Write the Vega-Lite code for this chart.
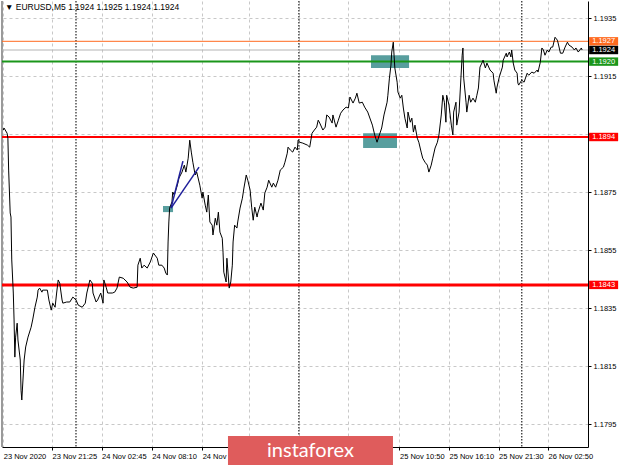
{
  "$schema": "https://vega.github.io/schema/vega-lite/v6.json",
  "width": 586,
  "height": 446,
  "autosize": "none",
  "padding": {"left": 2, "top": 1, "right": 32, "bottom": 18},
  "background": "white",
  "config": {"view": {"stroke": null}, "font": "Liberation Sans"},
  "layer": [
    {
      "data": {"values": [{"t": "2020-11-23T16:10:00Z", "p": 1.18964}], "format": {"parse": {"t": "date"}}},
      "mark": {"type": "rule", "color": "#9a9a9a", "strokeWidth": 2},
      "encoding": {
        "x": {"datum": {"utc": true, "year": 2020, "month": 11, "date": 23, "hours": 16, "minutes": 2}, "type": "temporal"}
      }
    },
    {
      "data": {"values": [{"d": "2020-11-24T00:00:00Z"}, {"d": "2020-11-25T00:00:00Z"}, {"d": "2020-11-26T00:00:00Z"}], "format": {"parse": {"d": "date"}}},
      "mark": {"type": "rule", "color": "#333333", "strokeWidth": 1.3, "strokeDash": [1.5, 1.5]},
      "encoding": {"x": {"field": "d", "type": "temporal"}}
    },
    {
      "data": {"values": [
        {"t1": "2020-11-24T09:22:00Z", "t2": "2020-11-24T10:27:00Z", "p1": 1.18702, "p2": 1.18681},
        {"t1": "2020-11-25T07:46:00Z", "t2": "2020-11-25T11:52:00Z", "p1": 1.19222, "p2": 1.19178},
        {"t1": "2020-11-25T06:55:00Z", "t2": "2020-11-25T10:34:00Z", "p1": 1.18953, "p2": 1.18902}
      ], "format": {"parse": {"t1": "date", "t2": "date"}}},
      "mark": {"type": "rect", "color": "#4a9696", "opacity": 0.92},
      "encoding": {
        "x": {"field": "t1", "type": "temporal"},
        "x2": {"field": "t2"},
        "y": {"field": "p1", "type": "quantitative"},
        "y2": {"field": "p2"}
      }
    },
    {
      "data": {"values": [{"lvl": "1.1924", "p": 1.1924}]},
      "mark": {"type": "rule", "color": "#b4b4b4", "strokeWidth": 1},
      "encoding": {"y": {"field": "p", "type": "quantitative"}}
    },
    {
      "data": {"values": [{"lvl": "1.1927", "p": 1.1927}]},
      "mark": {"type": "rule", "color": "#ff6a1f", "strokeWidth": 1},
      "encoding": {"y": {"field": "p", "type": "quantitative"}}
    },
    {
      "data": {"values": [{"lvl": "1.1920", "p": 1.1920}]},
      "mark": {"type": "rule", "color": "#1a961a", "strokeWidth": 2},
      "encoding": {"y": {"field": "p", "type": "quantitative"}}
    },
    {
      "data": {"values": [{"lvl": "1.1894", "p": 1.1894}]},
      "mark": {"type": "rule", "color": "#ff0000", "strokeWidth": 2},
      "encoding": {"y": {"field": "p", "type": "quantitative"}}
    },
    {
      "data": {"values": [{"lvl": "1.1843", "p": 1.1843}]},
      "mark": {"type": "rule", "color": "#ff0000", "strokeWidth": 3},
      "encoding": {"y": {"field": "p", "type": "quantitative"}}
    },
    {
      "data": {"values": [
        {"t": "2020-11-23T16:10:00Z", "p": 1.18964}, {"t": "2020-11-23T16:15:00Z", "p": 1.18971}, {"t": "2020-11-23T16:35:00Z", "p": 1.18953}, {"t": "2020-11-23T16:40:00Z", "p": 1.18936},
        {"t": "2020-11-23T16:45:00Z", "p": 1.18826}, {"t": "2020-11-23T16:55:00Z", "p": 1.18678}, {"t": "2020-11-23T17:00:00Z", "p": 1.18664}, {"t": "2020-11-23T17:05:00Z", "p": 1.18516},
        {"t": "2020-11-23T17:15:00Z", "p": 1.18402}, {"t": "2020-11-23T17:20:00Z", "p": 1.18309}, {"t": "2020-11-23T17:25:00Z", "p": 1.18181}, {"t": "2020-11-23T17:30:00Z", "p": 1.18250},
        {"t": "2020-11-23T17:40:00Z", "p": 1.18298}, {"t": "2020-11-23T17:45:00Z", "p": 1.18240}, {"t": "2020-11-23T18:00:00Z", "p": 1.18171}, {"t": "2020-11-23T18:05:00Z", "p": 1.18067},
        {"t": "2020-11-23T18:10:00Z", "p": 1.18033}, {"t": "2020-11-23T18:20:00Z", "p": 1.18126}, {"t": "2020-11-23T18:25:00Z", "p": 1.18171}, {"t": "2020-11-23T18:35:00Z", "p": 1.18216},
        {"t": "2020-11-23T18:50:00Z", "p": 1.18250}, {"t": "2020-11-23T19:10:00Z", "p": 1.18284}, {"t": "2020-11-23T19:20:00Z", "p": 1.18309}, {"t": "2020-11-23T19:35:00Z", "p": 1.18353},
        {"t": "2020-11-23T19:50:00Z", "p": 1.18388}, {"t": "2020-11-23T19:55:00Z", "p": 1.18412}, {"t": "2020-11-23T20:05:00Z", "p": 1.18419}, {"t": "2020-11-23T20:20:00Z", "p": 1.18405},
        {"t": "2020-11-23T20:25:00Z", "p": 1.18412}, {"t": "2020-11-23T20:55:00Z", "p": 1.18412}, {"t": "2020-11-23T21:05:00Z", "p": 1.18378}, {"t": "2020-11-23T21:20:00Z", "p": 1.18343},
        {"t": "2020-11-23T21:30:00Z", "p": 1.18367}, {"t": "2020-11-23T21:45:00Z", "p": 1.18353}, {"t": "2020-11-23T21:55:00Z", "p": 1.18402}, {"t": "2020-11-23T22:05:00Z", "p": 1.18447},
        {"t": "2020-11-23T22:15:00Z", "p": 1.18436}, {"t": "2020-11-23T22:30:00Z", "p": 1.18378}, {"t": "2020-11-23T22:35:00Z", "p": 1.18367}, {"t": "2020-11-23T23:00:00Z", "p": 1.18371},
        {"t": "2020-11-23T23:20:00Z", "p": 1.18371}, {"t": "2020-11-23T23:40:00Z", "p": 1.18388}, {"t": "2020-11-24T00:00:00Z", "p": 1.18378}, {"t": "2020-11-24T00:15:00Z", "p": 1.18360},
        {"t": "2020-11-24T00:40:00Z", "p": 1.18353}, {"t": "2020-11-24T01:00:00Z", "p": 1.18367}, {"t": "2020-11-24T01:10:00Z", "p": 1.18402}, {"t": "2020-11-24T01:30:00Z", "p": 1.18447},
        {"t": "2020-11-24T01:45:00Z", "p": 1.18436}, {"t": "2020-11-24T01:50:00Z", "p": 1.18402}, {"t": "2020-11-24T02:10:00Z", "p": 1.18371}, {"t": "2020-11-24T02:20:00Z", "p": 1.18378},
        {"t": "2020-11-24T02:40:00Z", "p": 1.18402}, {"t": "2020-11-24T02:55:00Z", "p": 1.18367}, {"t": "2020-11-24T03:00:00Z", "p": 1.18447}, {"t": "2020-11-24T03:15:00Z", "p": 1.18422},
        {"t": "2020-11-24T03:25:00Z", "p": 1.18402}, {"t": "2020-11-24T03:55:00Z", "p": 1.18402}, {"t": "2020-11-24T04:10:00Z", "p": 1.18405}, {"t": "2020-11-24T04:25:00Z", "p": 1.18419},
        {"t": "2020-11-24T04:40:00Z", "p": 1.18457}, {"t": "2020-11-24T05:05:00Z", "p": 1.18453}, {"t": "2020-11-24T05:30:00Z", "p": 1.18440}, {"t": "2020-11-24T05:50:00Z", "p": 1.18422},
        {"t": "2020-11-24T06:10:00Z", "p": 1.18419}, {"t": "2020-11-24T06:35:00Z", "p": 1.18422}, {"t": "2020-11-24T06:40:00Z", "p": 1.18498}, {"t": "2020-11-24T06:55:00Z", "p": 1.18522},
        {"t": "2020-11-24T07:05:00Z", "p": 1.18488}, {"t": "2020-11-24T07:20:00Z", "p": 1.18498}, {"t": "2020-11-24T07:40:00Z", "p": 1.18488}, {"t": "2020-11-24T08:00:00Z", "p": 1.18509},
        {"t": "2020-11-24T08:20:00Z", "p": 1.18540}, {"t": "2020-11-24T08:45:00Z", "p": 1.18522}, {"t": "2020-11-24T08:55:00Z", "p": 1.18498}, {"t": "2020-11-24T09:15:00Z", "p": 1.18498},
        {"t": "2020-11-24T09:30:00Z", "p": 1.18488}, {"t": "2020-11-24T09:40:00Z", "p": 1.18471}, {"t": "2020-11-24T09:50:00Z", "p": 1.18464}, {"t": "2020-11-24T09:55:00Z", "p": 1.18578},
        {"t": "2020-11-24T10:00:00Z", "p": 1.18647}, {"t": "2020-11-24T10:05:00Z", "p": 1.18695}, {"t": "2020-11-24T10:20:00Z", "p": 1.18716}, {"t": "2020-11-24T10:25:00Z", "p": 1.18750},
        {"t": "2020-11-24T10:35:00Z", "p": 1.18740}, {"t": "2020-11-24T10:55:00Z", "p": 1.18774}, {"t": "2020-11-24T11:05:00Z", "p": 1.18798}, {"t": "2020-11-24T11:25:00Z", "p": 1.18819},
        {"t": "2020-11-24T11:40:00Z", "p": 1.18843}, {"t": "2020-11-24T11:50:00Z", "p": 1.18819}, {"t": "2020-11-24T12:05:00Z", "p": 1.18867}, {"t": "2020-11-24T12:15:00Z", "p": 1.18929},
        {"t": "2020-11-24T12:25:00Z", "p": 1.18888}, {"t": "2020-11-24T12:35:00Z", "p": 1.18853}, {"t": "2020-11-24T12:50:00Z", "p": 1.18809}, {"t": "2020-11-24T13:00:00Z", "p": 1.18819},
        {"t": "2020-11-24T13:20:00Z", "p": 1.18774}, {"t": "2020-11-24T13:35:00Z", "p": 1.18729}, {"t": "2020-11-24T13:40:00Z", "p": 1.18750}, {"t": "2020-11-24T13:55:00Z", "p": 1.18705},
        {"t": "2020-11-24T14:05:00Z", "p": 1.18681}, {"t": "2020-11-24T14:15:00Z", "p": 1.18740}, {"t": "2020-11-24T14:25:00Z", "p": 1.18647}, {"t": "2020-11-24T14:40:00Z", "p": 1.18636},
        {"t": "2020-11-24T14:45:00Z", "p": 1.18602}, {"t": "2020-11-24T15:00:00Z", "p": 1.18660}, {"t": "2020-11-24T15:10:00Z", "p": 1.18636}, {"t": "2020-11-24T15:20:00Z", "p": 1.18681},
        {"t": "2020-11-24T15:30:00Z", "p": 1.18612}, {"t": "2020-11-24T15:45:00Z", "p": 1.18591}, {"t": "2020-11-24T15:50:00Z", "p": 1.18543}, {"t": "2020-11-24T15:55:00Z", "p": 1.18474},
        {"t": "2020-11-24T16:10:00Z", "p": 1.18440}, {"t": "2020-11-24T16:15:00Z", "p": 1.18522}, {"t": "2020-11-24T16:20:00Z", "p": 1.18488}, {"t": "2020-11-24T16:30:00Z", "p": 1.18419},
        {"t": "2020-11-24T16:40:00Z", "p": 1.18440}, {"t": "2020-11-24T16:50:00Z", "p": 1.18498}, {"t": "2020-11-24T16:55:00Z", "p": 1.18578}, {"t": "2020-11-24T17:05:00Z", "p": 1.18636},
        {"t": "2020-11-24T17:20:00Z", "p": 1.18626}, {"t": "2020-11-24T17:25:00Z", "p": 1.18647}, {"t": "2020-11-24T17:40:00Z", "p": 1.18695}, {"t": "2020-11-24T17:55:00Z", "p": 1.18729},
        {"t": "2020-11-24T18:05:00Z", "p": 1.18764}, {"t": "2020-11-24T18:20:00Z", "p": 1.18809}, {"t": "2020-11-24T18:30:00Z", "p": 1.18791}, {"t": "2020-11-24T18:45:00Z", "p": 1.18757},
        {"t": "2020-11-24T18:55:00Z", "p": 1.18698}, {"t": "2020-11-24T19:05:00Z", "p": 1.18653}, {"t": "2020-11-24T19:15:00Z", "p": 1.18698}, {"t": "2020-11-24T19:30:00Z", "p": 1.18664},
        {"t": "2020-11-24T19:35:00Z", "p": 1.18678}, {"t": "2020-11-24T19:55:00Z", "p": 1.18712}, {"t": "2020-11-24T20:10:00Z", "p": 1.18688}, {"t": "2020-11-24T20:20:00Z", "p": 1.18747},
        {"t": "2020-11-24T20:35:00Z", "p": 1.18767}, {"t": "2020-11-24T20:45:00Z", "p": 1.18791}, {"t": "2020-11-24T21:05:00Z", "p": 1.18767}, {"t": "2020-11-24T21:15:00Z", "p": 1.18781},
        {"t": "2020-11-24T21:30:00Z", "p": 1.18767}, {"t": "2020-11-24T21:45:00Z", "p": 1.18791}, {"t": "2020-11-24T22:00:00Z", "p": 1.18826}, {"t": "2020-11-24T22:20:00Z", "p": 1.18836},
        {"t": "2020-11-24T22:30:00Z", "p": 1.18853}, {"t": "2020-11-24T22:45:00Z", "p": 1.18884}, {"t": "2020-11-24T22:50:00Z", "p": 1.18905}, {"t": "2020-11-24T23:05:00Z", "p": 1.18895},
        {"t": "2020-11-24T23:20:00Z", "p": 1.18888}, {"t": "2020-11-24T23:35:00Z", "p": 1.18905}, {"t": "2020-11-24T23:50:00Z", "p": 1.18895}, {"t": "2020-11-24T23:55:00Z", "p": 1.18929},
        {"t": "2020-11-25T00:05:00Z", "p": 1.18922}, {"t": "2020-11-25T00:25:00Z", "p": 1.18919}, {"t": "2020-11-25T00:55:00Z", "p": 1.18912}, {"t": "2020-11-25T01:10:00Z", "p": 1.18905},
        {"t": "2020-11-25T01:25:00Z", "p": 1.18953}, {"t": "2020-11-25T01:40:00Z", "p": 1.18964}, {"t": "2020-11-25T01:55:00Z", "p": 1.18974}, {"t": "2020-11-25T02:05:00Z", "p": 1.18998},
        {"t": "2020-11-25T02:15:00Z", "p": 1.18988}, {"t": "2020-11-25T02:35:00Z", "p": 1.18964}, {"t": "2020-11-25T02:50:00Z", "p": 1.18974}, {"t": "2020-11-25T03:00:00Z", "p": 1.19016},
        {"t": "2020-11-25T03:15:00Z", "p": 1.19009}, {"t": "2020-11-25T03:35:00Z", "p": 1.18988}, {"t": "2020-11-25T03:40:00Z", "p": 1.19016}, {"t": "2020-11-25T04:00:00Z", "p": 1.18974},
        {"t": "2020-11-25T04:15:00Z", "p": 1.18998}, {"t": "2020-11-25T04:30:00Z", "p": 1.19022}, {"t": "2020-11-25T04:45:00Z", "p": 1.19033}, {"t": "2020-11-25T05:05:00Z", "p": 1.19043},
        {"t": "2020-11-25T05:20:00Z", "p": 1.19040}, {"t": "2020-11-25T05:30:00Z", "p": 1.19078}, {"t": "2020-11-25T05:50:00Z", "p": 1.19057}, {"t": "2020-11-25T06:05:00Z", "p": 1.19074},
        {"t": "2020-11-25T06:15:00Z", "p": 1.19091}, {"t": "2020-11-25T06:30:00Z", "p": 1.19057}, {"t": "2020-11-25T06:50:00Z", "p": 1.19060}, {"t": "2020-11-25T07:05:00Z", "p": 1.19043},
        {"t": "2020-11-25T07:25:00Z", "p": 1.19026}, {"t": "2020-11-25T07:55:00Z", "p": 1.18981}, {"t": "2020-11-25T08:10:00Z", "p": 1.18947}, {"t": "2020-11-25T08:25:00Z", "p": 1.18922},
        {"t": "2020-11-25T08:40:00Z", "p": 1.18947}, {"t": "2020-11-25T08:55:00Z", "p": 1.18971}, {"t": "2020-11-25T09:10:00Z", "p": 1.19016}, {"t": "2020-11-25T09:30:00Z", "p": 1.19060},
        {"t": "2020-11-25T09:35:00Z", "p": 1.19084}, {"t": "2020-11-25T09:45:00Z", "p": 1.19143}, {"t": "2020-11-25T09:55:00Z", "p": 1.19188}, {"t": "2020-11-25T10:00:00Z", "p": 1.19233},
        {"t": "2020-11-25T10:10:00Z", "p": 1.19267}, {"t": "2020-11-25T10:15:00Z", "p": 1.19222}, {"t": "2020-11-25T10:20:00Z", "p": 1.19178}, {"t": "2020-11-25T10:35:00Z", "p": 1.19129},
        {"t": "2020-11-25T10:40:00Z", "p": 1.19095}, {"t": "2020-11-25T10:55:00Z", "p": 1.19074}, {"t": "2020-11-25T11:05:00Z", "p": 1.19084}, {"t": "2020-11-25T11:15:00Z", "p": 1.19040},
        {"t": "2020-11-25T11:25:00Z", "p": 1.19005}, {"t": "2020-11-25T11:40:00Z", "p": 1.18971}, {"t": "2020-11-25T11:45:00Z", "p": 1.19026}, {"t": "2020-11-25T12:00:00Z", "p": 1.18991},
        {"t": "2020-11-25T12:10:00Z", "p": 1.19005}, {"t": "2020-11-25T12:20:00Z", "p": 1.18957}, {"t": "2020-11-25T12:30:00Z", "p": 1.18981}, {"t": "2020-11-25T12:45:00Z", "p": 1.18936},
        {"t": "2020-11-25T12:55:00Z", "p": 1.18922}, {"t": "2020-11-25T13:10:00Z", "p": 1.18888}, {"t": "2020-11-25T13:20:00Z", "p": 1.18867}, {"t": "2020-11-25T13:35:00Z", "p": 1.18853},
        {"t": "2020-11-25T13:50:00Z", "p": 1.18843}, {"t": "2020-11-25T14:00:00Z", "p": 1.18819}, {"t": "2020-11-25T14:15:00Z", "p": 1.18843}, {"t": "2020-11-25T14:25:00Z", "p": 1.18867},
        {"t": "2020-11-25T14:40:00Z", "p": 1.18902}, {"t": "2020-11-25T14:55:00Z", "p": 1.18922}, {"t": "2020-11-25T15:05:00Z", "p": 1.18947}, {"t": "2020-11-25T15:20:00Z", "p": 1.19016},
        {"t": "2020-11-25T15:30:00Z", "p": 1.19084}, {"t": "2020-11-25T15:40:00Z", "p": 1.19060}, {"t": "2020-11-25T15:50:00Z", "p": 1.18991}, {"t": "2020-11-25T15:55:00Z", "p": 1.19084},
        {"t": "2020-11-25T16:10:00Z", "p": 1.19050}, {"t": "2020-11-25T16:25:00Z", "p": 1.18981}, {"t": "2020-11-25T16:35:00Z", "p": 1.18947}, {"t": "2020-11-25T16:40:00Z", "p": 1.19026},
        {"t": "2020-11-25T16:55:00Z", "p": 1.19060}, {"t": "2020-11-25T17:00:00Z", "p": 1.18981}, {"t": "2020-11-25T17:15:00Z", "p": 1.19026}, {"t": "2020-11-25T17:35:00Z", "p": 1.19222},
        {"t": "2020-11-25T17:40:00Z", "p": 1.19247}, {"t": "2020-11-25T17:45:00Z", "p": 1.19143}, {"t": "2020-11-25T18:00:00Z", "p": 1.19060}, {"t": "2020-11-25T18:05:00Z", "p": 1.19026},
        {"t": "2020-11-25T18:20:00Z", "p": 1.19084}, {"t": "2020-11-25T18:30:00Z", "p": 1.19060}, {"t": "2020-11-25T18:45:00Z", "p": 1.19074}, {"t": "2020-11-25T19:00:00Z", "p": 1.19060},
        {"t": "2020-11-25T19:10:00Z", "p": 1.19084}, {"t": "2020-11-25T19:20:00Z", "p": 1.19109}, {"t": "2020-11-25T19:30:00Z", "p": 1.19181}, {"t": "2020-11-25T19:45:00Z", "p": 1.19198},
        {"t": "2020-11-25T19:50:00Z", "p": 1.19205}, {"t": "2020-11-25T20:05:00Z", "p": 1.19178}, {"t": "2020-11-25T20:15:00Z", "p": 1.19195}, {"t": "2020-11-25T20:35:00Z", "p": 1.19171},
        {"t": "2020-11-25T20:55:00Z", "p": 1.19160}, {"t": "2020-11-25T21:00:00Z", "p": 1.19136}, {"t": "2020-11-25T21:15:00Z", "p": 1.19091}, {"t": "2020-11-25T21:20:00Z", "p": 1.19112},
        {"t": "2020-11-25T21:35:00Z", "p": 1.19147}, {"t": "2020-11-25T21:55:00Z", "p": 1.19181}, {"t": "2020-11-25T22:00:00Z", "p": 1.19205}, {"t": "2020-11-25T22:20:00Z", "p": 1.19229},
        {"t": "2020-11-25T22:25:00Z", "p": 1.19216}, {"t": "2020-11-25T22:40:00Z", "p": 1.19233}, {"t": "2020-11-25T22:50:00Z", "p": 1.19216}, {"t": "2020-11-25T22:55:00Z", "p": 1.19240},
        {"t": "2020-11-25T23:05:00Z", "p": 1.19195}, {"t": "2020-11-25T23:15:00Z", "p": 1.19171}, {"t": "2020-11-25T23:30:00Z", "p": 1.19160}, {"t": "2020-11-25T23:35:00Z", "p": 1.19126},
        {"t": "2020-11-25T23:40:00Z", "p": 1.19119}, {"t": "2020-11-26T00:00:00Z", "p": 1.19136}, {"t": "2020-11-26T00:15:00Z", "p": 1.19129}, {"t": "2020-11-26T00:35:00Z", "p": 1.19160},
        {"t": "2020-11-26T00:45:00Z", "p": 1.19153}, {"t": "2020-11-26T01:05:00Z", "p": 1.19164}, {"t": "2020-11-26T01:20:00Z", "p": 1.19160}, {"t": "2020-11-26T01:40:00Z", "p": 1.19171},
        {"t": "2020-11-26T01:45:00Z", "p": 1.19164}, {"t": "2020-11-26T02:00:00Z", "p": 1.19198}, {"t": "2020-11-26T02:10:00Z", "p": 1.19247}, {"t": "2020-11-26T02:20:00Z", "p": 1.19240},
        {"t": "2020-11-26T02:30:00Z", "p": 1.19222}, {"t": "2020-11-26T02:45:00Z", "p": 1.19240}, {"t": "2020-11-26T02:55:00Z", "p": 1.19233}, {"t": "2020-11-26T03:10:00Z", "p": 1.19250},
        {"t": "2020-11-26T03:20:00Z", "p": 1.19250}, {"t": "2020-11-26T03:35:00Z", "p": 1.19284}, {"t": "2020-11-26T03:50:00Z", "p": 1.19274}, {"t": "2020-11-26T03:55:00Z", "p": 1.19264},
        {"t": "2020-11-26T04:10:00Z", "p": 1.19229}, {"t": "2020-11-26T04:25:00Z", "p": 1.19229}, {"t": "2020-11-26T04:40:00Z", "p": 1.19250}, {"t": "2020-11-26T04:55:00Z", "p": 1.19267},
        {"t": "2020-11-26T05:05:00Z", "p": 1.19257}, {"t": "2020-11-26T05:25:00Z", "p": 1.19250}, {"t": "2020-11-26T05:40:00Z", "p": 1.19240}, {"t": "2020-11-26T05:50:00Z", "p": 1.19247},
        {"t": "2020-11-26T06:05:00Z", "p": 1.19233}, {"t": "2020-11-26T06:25:00Z", "p": 1.19247}, {"t": "2020-11-26T06:30:00Z", "p": 1.19240}
      ], "format": {"parse": {"t": "date"}}},
      "mark": {"type": "line", "color": "#000000", "strokeWidth": 1, "interpolate": "linear"},
      "encoding": {
        "x": {
          "field": "t", "type": "temporal",
          "scale": {"type": "utc", "domain": [{"utc": true, "year": 2020, "month": 11, "date": 23, "hours": 16, "minutes": 2}, {"utc": true, "year": 2020, "month": 11, "date": 26, "hours": 7, "minutes": 8}]},
          "axis": {
            "title": null, "orient": "bottom",
            "values": [
              {"utc": true, "year": 2020, "month": 11, "date": 23, "hours": 16, "minutes": 10},
              {"utc": true, "year": 2020, "month": 11, "date": 23, "hours": 18, "minutes": 45},
              {"utc": true, "year": 2020, "month": 11, "date": 23, "hours": 21, "minutes": 25},
              {"utc": true, "year": 2020, "month": 11, "date": 24, "hours": 0, "minutes": 5},
              {"utc": true, "year": 2020, "month": 11, "date": 24, "hours": 2, "minutes": 45},
              {"utc": true, "year": 2020, "month": 11, "date": 24, "hours": 5, "minutes": 30},
              {"utc": true, "year": 2020, "month": 11, "date": 24, "hours": 8, "minutes": 10},
              {"utc": true, "year": 2020, "month": 11, "date": 24, "hours": 10, "minutes": 55},
              {"utc": true, "year": 2020, "month": 11, "date": 24, "hours": 13, "minutes": 35},
              {"utc": true, "year": 2020, "month": 11, "date": 24, "hours": 16, "minutes": 15},
              {"utc": true, "year": 2020, "month": 11, "date": 24, "hours": 18, "minutes": 40},
              {"utc": true, "year": 2020, "month": 11, "date": 24, "hours": 21, "minutes": 15},
              {"utc": true, "year": 2020, "month": 11, "date": 25, "hours": 0, "minutes": 0},
              {"utc": true, "year": 2020, "month": 11, "date": 25, "hours": 2, "minutes": 35},
              {"utc": true, "year": 2020, "month": 11, "date": 25, "hours": 5, "minutes": 20},
              {"utc": true, "year": 2020, "month": 11, "date": 25, "hours": 8, "minutes": 0},
              {"utc": true, "year": 2020, "month": 11, "date": 25, "hours": 10, "minutes": 50},
              {"utc": true, "year": 2020, "month": 11, "date": 25, "hours": 13, "minutes": 20},
              {"utc": true, "year": 2020, "month": 11, "date": 25, "hours": 16, "minutes": 10},
              {"utc": true, "year": 2020, "month": 11, "date": 25, "hours": 18, "minutes": 40},
              {"utc": true, "year": 2020, "month": 11, "date": 25, "hours": 21, "minutes": 30},
              {"utc": true, "year": 2020, "month": 11, "date": 26, "hours": 0, "minutes": 0},
              {"utc": true, "year": 2020, "month": 11, "date": 26, "hours": 2, "minutes": 50},
              {"utc": true, "year": 2020, "month": 11, "date": 26, "hours": 5, "minutes": 25}
            ],
            "labelExpr": "utcFormat(datum.value, '%d %H:%M') == '23 16:10' ? '23 Nov 2020' : (indexof(['23 21:25','24 02:45','24 08:10','24 13:35','25 10:50','25 16:10','25 21:30','26 02:50'], utcFormat(datum.value, '%d %H:%M')) >= 0 ? utcFormat(datum.value, '%d %b %H:%M') : '')",
            "labelAlign": "left", "labelPadding": 2, "labelFont": "Liberation Sans", "labelFontSize": 7.5, "labelColor": "#000000",
            "labelFlush": false, "labelOverlap": false, "labelBound": false,
            "tickSize": 3,
            "tickColor": {"condition": {"test": "indexof(['23 21:25','24 02:45','24 08:10','24 13:35','25 10:50','25 16:10','25 21:30','26 02:50'], utcFormat(datum.value, '%d %H:%M')) >= 0", "value": "#000000"}, "value": "transparent"},
            "domainColor": "#000000", "domainWidth": 1,
            "grid": true, "gridColor": "#c8c8c8", "gridDash": [3, 3], "gridWidth": 1
          }
        },
        "y": {
          "field": "p", "type": "quantitative",
          "scale": {"domain": [1.17871, 1.19409], "nice": false, "zero": false},
          "axis": {
            "title": null, "orient": "right",
            "values": [1.1795, 1.1805, 1.1815, 1.1825, 1.1835, 1.1845, 1.1855, 1.1865, 1.1875, 1.1885, 1.1895, 1.1905, 1.1915, 1.1925, 1.1935],
            "format": ".4f",
            "labelExpr": "(datum.label == '1.1895' || datum.label == '1.1925') ? '' : datum.label",
            "labelAlign": "left", "labelBaseline": "middle", "labelPadding": 2, "labelFont": "Liberation Sans", "labelFontSize": 7.5, "labelColor": "#000000",
            "labelFlush": false, "labelOverlap": false, "labelBound": false,
            "tickSize": 3, "tickColor": "#000000",
            "domainColor": "#000000", "domainWidth": 1,
            "grid": true, "gridColor": "#c8c8c8", "gridDash": [3, 3], "gridWidth": 1
          }
        }
      }
    },
    {
      "data": {"values": [
        {"seg": "a", "t": "2020-11-24T10:14:00Z", "p": 1.18695}, {"seg": "a", "t": "2020-11-24T11:31:00Z", "p": 1.18857},
        {"seg": "b", "t": "2020-11-24T10:14:00Z", "p": 1.18695}, {"seg": "b", "t": "2020-11-24T13:15:00Z", "p": 1.18836}
      ], "format": {"parse": {"t": "date"}}},
      "mark": {"type": "line", "color": "#1f1f9a", "strokeWidth": 1.5},
      "encoding": {
        "x": {"field": "t", "type": "temporal"},
        "y": {"field": "p", "type": "quantitative"},
        "detail": {"field": "seg", "type": "nominal"}
      }
    },
    {
      "data": {"values": [
        {"lvl": "1.1927", "p": 1.1927}, {"lvl": "1.1924", "p": 1.1924}, {"lvl": "1.1920", "p": 1.1920}, {"lvl": "1.1894", "p": 1.1894}, {"lvl": "1.1843", "p": 1.1843}
      ]},
      "mark": {"type": "point", "shape": "M-1,-0.29L1,-0.29L1,0.29L-1,0.29Z", "filled": true, "size": 841, "opacity": 1, "strokeWidth": 0, "clip": false},
      "encoding": {
        "x": {"datum": {"utc": true, "year": 2020, "month": 11, "date": 26, "hours": 8, "minutes": 49}, "type": "temporal"},
        "y": {"field": "p", "type": "quantitative"},
        "color": {"field": "lvl", "type": "nominal", "scale": {"domain": ["1.1927", "1.1924", "1.1920", "1.1894", "1.1843"], "range": ["#ff6a1f", "#000000", "#1a961a", "#ff0000", "#ff0000"]}, "legend": null}
      }
    },
    {
      "data": {"values": [
        {"lvl": "1.1927", "p": 1.1927}, {"lvl": "1.1924", "p": 1.1924}, {"lvl": "1.1920", "p": 1.1920}, {"lvl": "1.1894", "p": 1.1894}, {"lvl": "1.1843", "p": 1.1843}
      ]},
      "mark": {"type": "text", "color": "#ffffff", "font": "Liberation Sans", "fontSize": 7.5, "align": "center", "baseline": "middle", "clip": false},
      "encoding": {
        "x": {"datum": {"utc": true, "year": 2020, "month": 11, "date": 26, "hours": 8, "minutes": 49}, "type": "temporal"},
        "y": {"field": "p", "type": "quantitative"},
        "text": {"field": "lvl", "type": "nominal"}
      }
    },
    {
      "data": {"values": [{"caption": "▼ EURUSD,M5  1.1924 1.1925 1.1924 1.1924"}]},
      "mark": {"type": "text", "color": "#000000", "font": "Liberation Sans", "fontSize": 8.5, "align": "left", "baseline": "alphabetic", "clip": false},
      "encoding": {
        "x": {"datum": {"utc": true, "year": 2020, "month": 11, "date": 23, "hours": 16, "minutes": 21}, "type": "temporal"},
        "y": {"datum": 1.19379, "type": "quantitative"},
        "text": {"field": "caption", "type": "nominal"}
      }
    },
    {
      "data": {"values": [{"brand": "instaforex"}]},
      "mark": {"type": "rect", "color": "#df5c5c", "clip": false},
      "encoding": {
        "x": {"datum": {"utc": true, "year": 2020, "month": 11, "date": 24, "hours": 16, "minutes": 22}, "type": "temporal"},
        "x2": {"datum": {"utc": true, "year": 2020, "month": 11, "date": 25, "hours": 10, "minutes": 8}},
        "y": {"datum": 1.17909, "type": "quantitative"},
        "y2": {"datum": 1.17800}
      }
    },
    {
      "data": {"values": [{"brand": "instaforex"}]},
      "mark": {"type": "text", "color": "#ffffff", "font": "Lato", "fontSize": 20, "align": "center", "baseline": "alphabetic", "clip": false},
      "encoding": {
        "x": {"datum": {"utc": true, "year": 2020, "month": 11, "date": 25, "hours": 1, "minutes": 15}, "type": "temporal"},
        "y": {"datum": 1.17836, "type": "quantitative"},
        "text": {"field": "brand", "type": "nominal"}
      }
    }
  ]
}
